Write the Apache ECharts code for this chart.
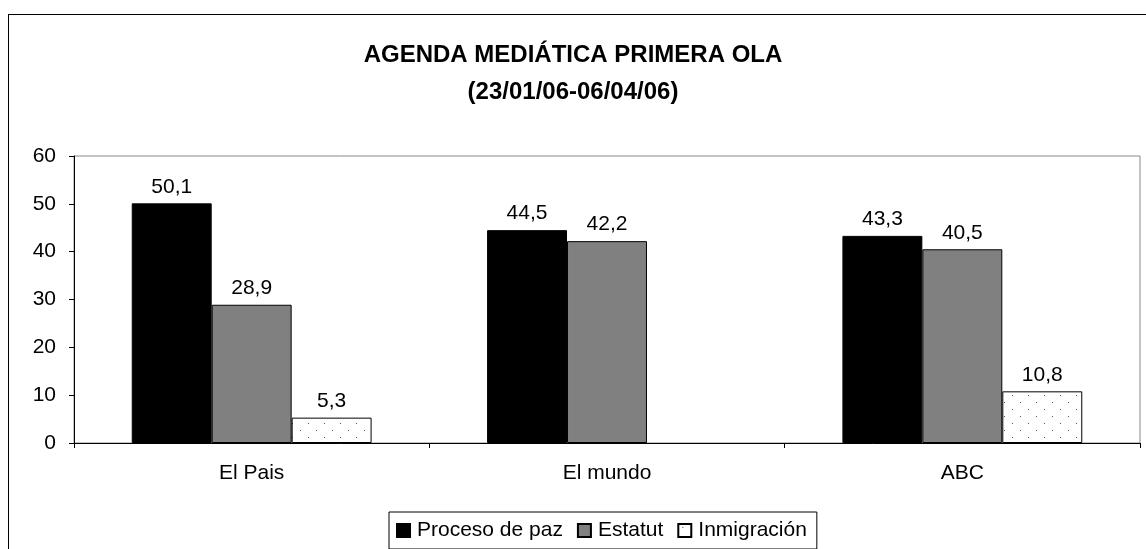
<!DOCTYPE html>
<html>
<head>
<meta charset="utf-8">
<script src="https://cdn.jsdelivr.net/npm/echarts@6/dist/echarts.min.js"></script>
<style>
	html, body { margin:0; padding:0; background:#fff; }
	#chart { width:1146px; height:549px; position:relative; }
	#frame { position:absolute; left:8px; top:14px; width:1146px; height:560px; border:1px solid #000; box-sizing:border-box; pointer-events:none; }
</style>
</head>
<body>
<div id="chart"></div>
<div id="frame"></div>
<script>
	let categories = ['El Pais', 'El mundo', 'ABC'];
	let seriesNames = ['Proceso de paz', 'Estatut', 'Inmigración'];
	let procesoDePaz = [50.1, 44.5, 43.3];
	let estatut = [28.9, 42.2, 40.5];
	let inmigracion = [5.3, null, 10.8];
	let yTicks = [0, 10, 20, 30, 40, 50, 60];

	let fontName = 'Liberation Sans, Arial, sans-serif';

	//dotted fill for the third series
	function dotPattern(){
		let c = document.createElement('canvas');
		c.width = 16; c.height = 14;
		let ctx = c.getContext('2d');
		ctx.fillStyle = '#ffffff';
		ctx.fillRect(0, 0, 16, 14);
		ctx.fillStyle = '#555555';
		ctx.fillRect(4, 3, 1, 1);
		ctx.fillRect(12, 10, 1, 1);
		return c;
	}

	let labelStyle = {
		show: true,
		position: 'top',
		distance: 6,
		fontFamily: fontName,
		fontSize: 21,
		color: '#000',
		formatter: function(p){
			return String(p.value).replace('.', ',');
		}
	};

	function makeSeries(name, data, fill){
		return {
			name: name,
			type: 'bar',
			data: data,
			barGap: '0%',
			barCategoryGap: '32.5%',
			itemStyle: { color: fill, borderColor: '#000', borderWidth: 1 },
			label: labelStyle,
			emphasis: { disabled: true },
			animation: false
		};
	}

	let chart = echarts.init(document.getElementById('chart'));
	chart.setOption({
		backgroundColor: '#ffffff',
		animation: false,
		title: {
			text: 'AGENDA MEDIÁTICA PRIMERA OLA\n(23/01/06-06/04/06)',
			left: 'center',
			top: 32,
			textStyle: {
				fontFamily: fontName,
				fontWeight: 'bold',
				fontSize: 24,
				lineHeight: 37,
				color: '#000'
			}
		},
		legend: {
			left: 389,
			top: 512,
			orient: 'horizontal',
			itemWidth: 13,
			itemHeight: 13,
			itemGap: 14,
			padding: [8, 10, 8, 7],
			borderColor: '#000',
			borderWidth: 1,
			selectedMode: false,
			icon: 'rect',
			textStyle: {
				fontFamily: fontName,
				fontSize: 21,
				color: '#000',
				padding: [0, 0, 0, 2]
			},
			data: seriesNames
		},
		grid: {
			left: 74,
			right: 6,
			top: 156,
			bottom: 106,
			show: true,
			borderColor: '#888',
			borderWidth: 1
		},
		xAxis: {
			type: 'category',
			data: categories,
			axisLine: { lineStyle: { color: '#000', width: 1 } },
			axisTick: { show: true, length: 5, lineStyle: { color: '#000' } },
			axisLabel: {
				margin: 20,
				fontFamily: fontName,
				fontSize: 21,
				color: '#000'
			}
		},
		yAxis: {
			type: 'value',
			min: yTicks[0],
			max: yTicks[yTicks.length - 1],
			interval: 10,
			splitLine: { show: false },
			axisLine: { show: true, lineStyle: { color: '#000', width: 1 } },
			axisTick: { show: true, length: 5, lineStyle: { color: '#000' } },
			axisLabel: {
				margin: 18,
				fontFamily: fontName,
				fontSize: 21,
				color: '#000'
			}
		},
		series: [
			makeSeries(seriesNames[0], procesoDePaz, '#000000'),
			makeSeries(seriesNames[1], estatut, '#808080'),
			makeSeries(seriesNames[2], inmigracion, { image: dotPattern(), repeat: 'repeat' })
		]
	});
</script>
</body>
</html>
